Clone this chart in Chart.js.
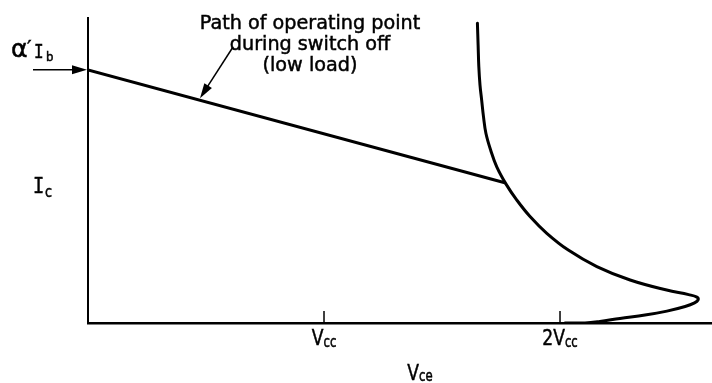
<!DOCTYPE html>
<html>
<head>
<meta charset="utf-8">
<script src="https://cdn.jsdelivr.net/npm/chart.js@4"></script>
<style>
  html, body { margin: 0; padding: 0; background: #fff; }
  #wrap { width: 712px; height: 383px; }
</style>
</head>
<body>
<div id="wrap"><canvas id="chart"></canvas></div>
<script>
// Vce in units of Vcc, Ic in arbitrary units
const vceTicks = [1, 2];
const vceTickMain = ["V", "2V"];
const vceTickSub = ["cc", "cc"];

// operating point path while switching off (low load)
const pathVce = [0, 1.770];
const pathIc = [8.30, 4.59];

// turn-off locus, from the top down round the nose back onto the axis
const locusVce = [1.650, 1.653, 1.656, 1.661, 1.668, 1.676, 1.686, 1.706, 1.732, 1.774,
                  1.817, 1.873, 1.944, 2.035, 2.156, 2.297, 2.452, 2.545, 2.580, 2.585,
                  2.570, 2.530, 2.453, 2.360, 2.254, 2.169, 2.106, 2.021];
const locusIc  = [9.83, 9.11, 8.40, 7.80, 7.31, 6.75, 6.22, 5.67, 5.12, 4.52,
                  4.03, 3.49, 2.94, 2.39, 1.85, 1.41, 1.08, 0.93, 0.85, 0.76,
                  0.66, 0.54, 0.39, 0.26, 0.15, 0.05, 0.00, 0.00];

const FONT = '"DejaVu Sans", sans-serif';
const MONO = '"DejaVu Sans Mono", monospace';

const toPoints = (xs, ys) => xs.map((x, i) => ({ x, y: ys[i] }));

/* ==============================
   TEXT HELPERS
============================== */
function textWidth(ctx, text, size, family, sx) {
  ctx.save();
  ctx.font = `${size}px ${family}`;
  const w = ctx.measureText(text).width * sx;
  ctx.restore();
  return w;
}

function lettering(ctx, text, x, y, size, opts = {}) {
  const family = opts.family || FONT;
  const sx = opts.sx || 1;
  ctx.save();
  ctx.font = `${size}px ${family}`;
  ctx.fillStyle = "#000";
  ctx.strokeStyle = "#000";
  ctx.lineWidth = 0.5;
  ctx.textAlign = "left";
  ctx.textBaseline = "alphabetic";
  ctx.translate(x, y);
  ctx.scale(sx, 1);
  ctx.fillText(text, 0, 0);
  ctx.strokeText(text, 0, 0);
  ctx.restore();
  return textWidth(ctx, text, size, family, sx);
}

// symbol with a lowered subscript, centred on cx
function symbol(ctx, main, sub, cx, base, size, subSize, drop, sx) {
  const w1 = textWidth(ctx, main, size, FONT, sx);
  const w2 = textWidth(ctx, sub, subSize, FONT, sx);
  const x0 = cx - (w1 + w2) / 2;
  lettering(ctx, main, x0, base, size, { sx });
  lettering(ctx, sub, x0 + w1, base + drop, subSize, { sx });
}

function arrow(ctx, x1, y1, x2, y2, len, half) {
  const a = Math.atan2(y2 - y1, x2 - x1);
  ctx.save();
  ctx.strokeStyle = "#000";
  ctx.fillStyle = "#000";
  ctx.lineWidth = 1.5;
  ctx.beginPath();
  ctx.moveTo(x1, y1);
  ctx.lineTo(x2 - len * 0.6 * Math.cos(a), y2 - len * 0.6 * Math.sin(a));
  ctx.stroke();
  ctx.beginPath();
  ctx.moveTo(x2, y2);
  ctx.lineTo(x2 - len * Math.cos(a) - half * Math.sin(a), y2 - len * Math.sin(a) + half * Math.cos(a));
  ctx.lineTo(x2 - len * Math.cos(a) + half * Math.sin(a), y2 - len * Math.sin(a) - half * Math.cos(a));
  ctx.closePath();
  ctx.fill();
  ctx.restore();
}

/* ==============================
   LABELS, TICKS, ARROWS
============================== */
const sketchLabels = {
  id: "sketchLabels",
  afterDraw(chart) {
    const { ctx, chartArea, scales } = chart;
    const xs = scales.x, ys = scales.y;

    // tick marks rise from the Vce axis
    ctx.save();
    ctx.strokeStyle = "#000";
    ctx.lineWidth = 1.5;
    vceTicks.forEach(v => {
      const px = xs.getPixelForValue(v);
      ctx.beginPath();
      ctx.moveTo(px, chartArea.bottom - 12);
      ctx.lineTo(px, chartArea.bottom);
      ctx.stroke();
    });
    ctx.restore();

    vceTicks.forEach((v, i) => {
      symbol(ctx, vceTickMain[i], vceTickSub[i], xs.getPixelForValue(v), chartArea.bottom + 22, 22, 15, 2, 0.78);
    });

    // axis titles
    symbol(ctx, "V", "ce", 420, 380, 22, 15, 1, 0.78);
    lettering(ctx, "I", 33, 193, 22, { family: MONO, sx: 0.85 });
    lettering(ctx, "c", 45, 197, 15, { sx: 0.85 });

    // alpha' Ib with its arrow onto the Ic axis
    const py0 = ys.getPixelForValue(pathIc[0]);
    lettering(ctx, "\u03b1", 11, 57, 24, { sx: 1.05 });
    lettering(ctx, "\u2032", 27, 54, 20);
    lettering(ctx, "I", 34, 58, 20, { family: MONO, sx: 0.8 });
    lettering(ctx, "b", 46, 61, 13, { sx: 0.9 });
    arrow(ctx, 33, py0, chartArea.left - 1, py0, 15, 4.5);

    // note and its arrow onto the path
    const note = ["Path of operating point", "during switch off", "(low load)"];
    const bases = [29, 50, 71];
    note.forEach((t, i) => {
      const w = textWidth(ctx, t, 20, FONT, 0.96);
      lettering(ctx, t, 310 - w / 2, bases[i], 20, { sx: 0.96 });
    });

    const tipVce = xs.getValueForPixel(200);
    const tipIc = pathIc[0] + (pathIc[1] - pathIc[0]) * (tipVce - pathVce[0]) / (pathVce[1] - pathVce[0]);
    arrow(ctx, 233, 47, xs.getPixelForValue(tipVce), ys.getPixelForValue(tipIc) - 2, 15, 4.5);
  }
};

/* ==============================
   CHART
============================== */
new Chart(document.getElementById("chart"), {
  type: "scatter",
  data: {
    datasets: [
      {
        data: toPoints(pathVce, pathIc),
        showLine: true,
        borderColor: "#000",
        borderWidth: 3,
        pointRadius: 0
      },
      {
        data: toPoints(locusVce, locusIc),
        showLine: true,
        borderColor: "#000",
        borderWidth: 3,
        pointRadius: 0,
        tension: 0.4,
        borderCapStyle: "round",
        borderJoinStyle: "round"
      }
    ]
  },
  options: {
    responsive: true,
    maintainAspectRatio: false,
    animation: false,
    events: [],
    layout: { padding: { top: 18, right: 0, left: 0, bottom: 0 } },
    plugins: { legend: { display: false }, tooltip: { enabled: false } },
    scales: {
      x: {
        type: "linear",
        min: 0,
        max: 2.644,
        grid: { display: false },
        ticks: { display: false },
        border: { display: true, color: "#000", width: 2.5 },
        afterFit: s => { s.height = 60; }
      },
      y: {
        type: "linear",
        min: 0,
        max: 10,
        grid: { display: false },
        ticks: { display: false },
        border: { display: true, color: "#000", width: 2 },
        afterFit: s => { s.width = 88; }
      }
    }
  },
  plugins: [sketchLabels]
});
</script>
</body>
</html>
